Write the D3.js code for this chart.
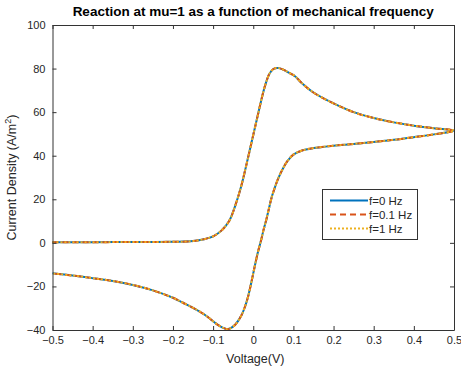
<!DOCTYPE html>
<html>
<head>
<meta charset="utf-8">
<script src="https://cdn.jsdelivr.net/npm/d3@7"></script>
<style>
  html, body { margin: 0; padding: 0; background: #ffffff; }
  svg { display: block; font-family: "Liberation Sans", Arial, sans-serif; }
</style>
</head>
<body>
<svg id="chart" width="461" height="371"></svg>
<script>
// ---- data ----
const chartTitle = "Reaction at mu=1 as a function of mechanical frequency";
const xLabel = "Voltage(V)";
const xTicks = [-0.5, -0.4, -0.3, -0.2, -0.1, 0, 0.1, 0.2, 0.3, 0.4, 0.5];
const yTicks = [-40, -20, 0, 20, 40, 60, 80, 100];
const seriesNames = ["f=0 Hz", "f=0.1 Hz", "f=1 Hz"];

// forward sweep (-0.5 -> 0.5)
const forwardVoltage = [-0.5, -0.4, -0.3, -0.2, -0.15, -0.12, -0.1, -0.08, -0.06, -0.045, -0.03, -0.02, -0.01, 0.0, 0.01, 0.02, 0.03, 0.04, 0.05, 0.062, 0.075, 0.09, 0.104, 0.12, 0.15, 0.2, 0.25, 0.3, 0.35, 0.4, 0.45, 0.5];
const forwardCurrent = [0.3, 0.3, 0.4, 0.5, 0.8, 1.8, 3.0, 5.5, 10, 17, 26, 33.5, 41.5, 49.5, 57.5, 65.5, 72.5, 77.5, 79.8, 80.3, 79.5, 78, 76.5, 73.5, 69, 64, 60, 57.3, 55.3, 53.8, 52.6, 51.5];
// reverse sweep (0.5 -> -0.5)
const reverseVoltage = [0.5, 0.45, 0.4, 0.35, 0.3, 0.25, 0.2, 0.15, 0.12, 0.1, 0.085, 0.075, 0.062, 0.054, 0.046, 0.04, 0.033, 0.025, 0.02, 0.012, 0.004, -0.004, -0.012, -0.02, -0.03, -0.045, -0.058, -0.065, -0.075, -0.09, -0.12, -0.15, -0.175, -0.2, -0.25, -0.3, -0.35, -0.4, -0.45, -0.5];
const reverseCurrent = [51.5, 49.8, 48.5, 47.3, 46.3, 45.4, 44.6, 43.5, 42.3, 40.5, 37.5, 34.5, 29.5, 25.5, 21, 16.5, 11, 5.5, 1.5, -4, -10.5, -17.5, -24, -29, -33.5, -37.6, -39.3, -39.6, -39, -37.4, -33.1, -29.8, -27.5, -25.2, -21.8, -19.3, -17.5, -16.2, -15, -14];

// ---- layout ----
const svg = d3.select("#chart");
const mLeft = 52.5, mRight = 454, mTop = 25, mBottom = 330;
const x = d3.scaleLinear().domain([-0.5, 0.5]).range([mLeft, mRight]);
const y = d3.scaleLinear().domain([-40, 100]).range([mBottom, mTop]);

const axisColor = "#333333";
const textColor = "#262626";

// build point list for the full loop
const pts = forwardVoltage.map((v, i) => [v, forwardCurrent[i]])
  .concat(reverseVoltage.slice(1).map((v, i) => [v, reverseCurrent[i + 1]]));

const line = d3.line()
  .x(d => x(d[0]))
  .y(d => y(d[1]))
  .curve(d3.curveCatmullRom.alpha(0.5));

const styles = [
  { color: "#0072BD", dash: null },
  { color: "#D95319", dash: "6,4" },
  { color: "#EDB120", dash: "2,2" }
];

const plot = svg.append("g");
seriesNames.forEach((name, i) => {
  plot.append("path")
    .datum(pts)
    .attr("d", line)
    .attr("fill", "none")
    .attr("stroke", styles[i].color)
    .attr("stroke-width", 2)
    .attr("stroke-dasharray", styles[i].dash);
});

// axes (box with inward ticks)
const tickLen = 4;
const gB = svg.append("g").attr("transform", `translate(0,${mBottom})`)
  .call(d3.axisBottom(x).tickValues(xTicks).tickSizeInner(-tickLen).tickSizeOuter(0).tickPadding(6).tickFormat(d => d === 0 ? "0" : d3.format("")(d)));
const gT = svg.append("g").attr("transform", `translate(0,${mTop})`)
  .call(d3.axisTop(x).tickValues(xTicks).tickSizeInner(-tickLen).tickSizeOuter(0).tickFormat(""));
const gL = svg.append("g").attr("transform", `translate(${mLeft},0)`)
  .call(d3.axisLeft(y).tickValues(yTicks).tickSizeInner(-tickLen).tickSizeOuter(0).tickPadding(7));
const gR = svg.append("g").attr("transform", `translate(${mRight},0)`)
  .call(d3.axisRight(y).tickValues(yTicks).tickSizeInner(-tickLen).tickSizeOuter(0).tickFormat(""));

[gB, gT, gL, gR].forEach(g => {
  g.select(".domain").attr("stroke", axisColor).attr("stroke-width", 1);
  g.selectAll(".tick line").attr("stroke", axisColor).attr("stroke-width", 1);
  g.selectAll(".tick text").attr("fill", textColor).style("font-size", "11px")
    .style("font-family", "'Liberation Sans', Arial, sans-serif");
});

// title
svg.append("text")
  .attr("x", (mLeft + mRight) / 2).attr("y", 16)
  .attr("text-anchor", "middle")
  .style("font-size", "13.5px").style("font-weight", "bold")
  .attr("fill", "#000")
  .text(chartTitle);

// x label
svg.append("text")
  .attr("x", (mLeft + mRight) / 2 + 2).attr("y", 363)
  .attr("text-anchor", "middle")
  .style("font-size", "12.5px")
  .attr("fill", textColor)
  .text(xLabel);

// y label
const yl = svg.append("text")
  .attr("transform", `translate(16,${(mTop + mBottom) / 2}) rotate(-90)`)
  .attr("text-anchor", "middle")
  .style("font-size", "12.5px")
  .attr("fill", textColor);
yl.append("tspan").text("Current Density (A/m");
yl.append("tspan").attr("baseline-shift", "super").style("font-size", "9px").text("2");
yl.append("tspan").text(")");

// legend
const lg = svg.append("g");
lg.append("rect")
  .attr("x", 322.5).attr("y", 189.5).attr("width", 95).attr("height", 50)
  .attr("fill", "#fff").attr("stroke", axisColor).attr("stroke-width", 1);
seriesNames.forEach((name, i) => {
  const yy = 200.5 + i * 14;
  lg.append("line")
    .attr("x1", 330).attr("x2", 368).attr("y1", yy).attr("y2", yy)
    .attr("stroke", styles[i].color).attr("stroke-width", 2)
    .attr("stroke-dasharray", styles[i].dash);
  lg.append("text")
    .attr("x", 369).attr("y", yy + 4)
    .style("font-size", "11.5px")
    .attr("fill", textColor)
    .text(name);
});
</script>
</body>
</html>
